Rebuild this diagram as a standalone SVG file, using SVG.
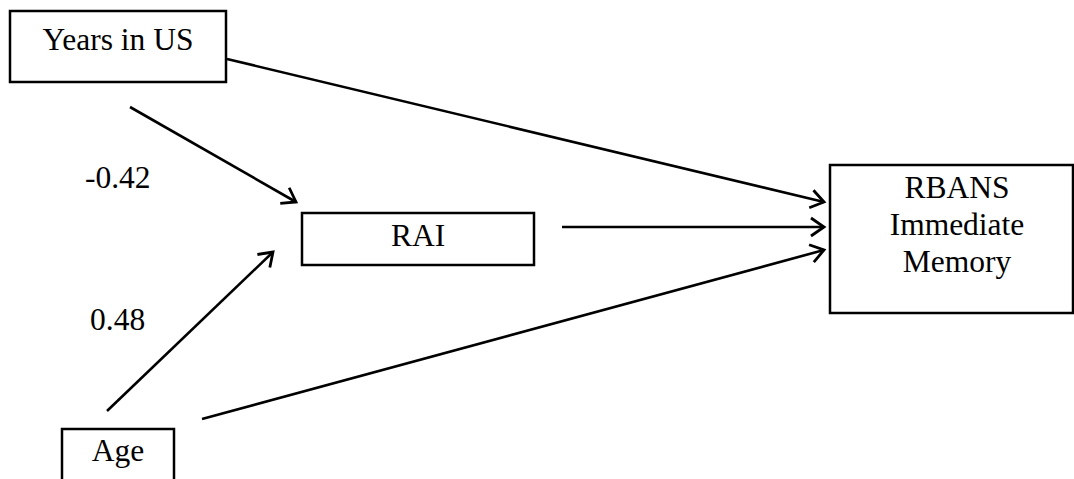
<svg xmlns="http://www.w3.org/2000/svg" width="1074" height="479" viewBox="0 0 1074 479">
<style>
.box{fill:#fff;stroke:#000;stroke-width:2.5}
.t{font-family:"Liberation Serif","Times New Roman",serif;font-size:31.5px;fill:#000}
.c{text-anchor:middle}
.ln{stroke:#000;stroke-width:2.6;fill:none;marker-end:url(#ah)}
</style>
<defs>
<marker id="ah" markerUnits="userSpaceOnUse" viewBox="-16 -10 18 20" refX="0" refY="0" markerWidth="18" markerHeight="20" orient="auto" overflow="visible">
<path d="M-13,-9 L0,0 L-13,9" fill="none" stroke="#000" stroke-width="2.8" stroke-linejoin="miter"/>
</marker>
</defs>
<rect width="1074" height="479" fill="#fff"/>
<g id="connectors">
<line class="ln" x1="227" y1="59" x2="824" y2="202"/>
<line class="ln" x1="130" y1="107" x2="296" y2="202"/>
<line class="ln" x1="107" y1="411" x2="273" y2="252"/>
<line class="ln" x1="562" y1="227" x2="824" y2="227"/>
<line class="ln" x1="202" y1="419" x2="824" y2="250"/>
</g>
<g id="years">
<rect class="box" x="10" y="11" width="216" height="71"/>
<text class="t c" x="118" y="50">Years in US</text>
</g>
<g id="rai">
<rect class="box" x="302" y="213" width="232" height="52"/>
<text class="t c" x="418" y="246">RAI</text>
</g>
<g id="age">
<rect class="box" x="62" y="429" width="112" height="60"/>
<text class="t c" x="118" y="461">Age</text>
</g>
<g id="rbans">
<rect class="box" x="830" y="165" width="243" height="148"/>
<text class="t c" x="957" y="198">RBANS</text>
<text class="t c" x="957" y="235">Immediate</text>
<text class="t c" x="957" y="272">Memory</text>
</g>
<g id="labels">
<text class="t" x="85" y="188">-0.42</text>
<text class="t" x="90" y="330">0.48</text>
</g>
</svg>
